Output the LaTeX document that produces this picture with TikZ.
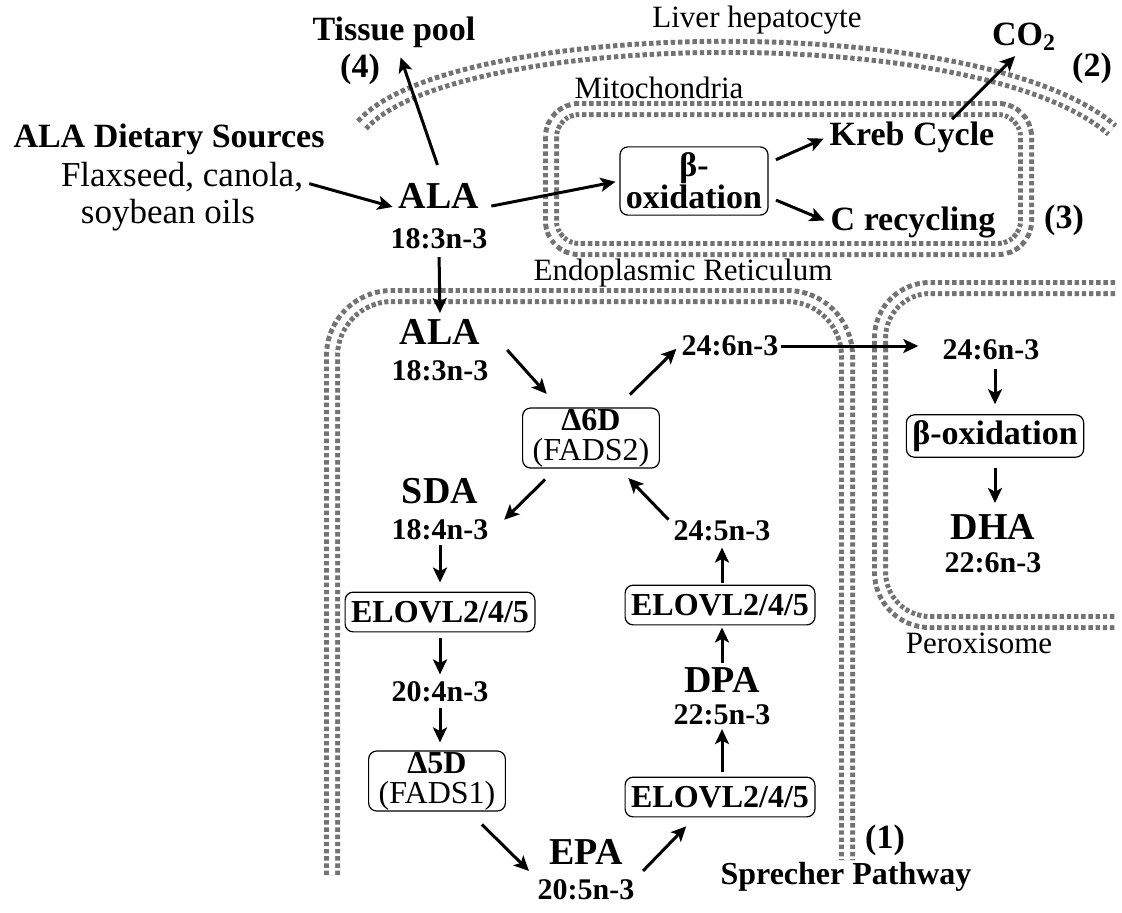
\documentclass[tikz,border=0pt]{standalone}
\usepackage{fontspec}
\setmainfont{Liberation Serif}
\usepackage{tikz}
\usetikzlibrary{positioning, arrows.meta}

\begin{document}
\begin{tikzpicture}[x=0.5pt, y=-0.5pt,
                txt/.style={font=\fontsize{17.5}{19}\selectfont, inner sep=1pt},
                lbl/.style={font=\fontsize{17}{19}\selectfont\bfseries, inner sep=1pt},
                big/.style={font=\fontsize{19}{21}\selectfont\bfseries, inner sep=1pt},
                fa/.style={font=\fontsize{15}{16}\selectfont\bfseries, inner sep=1pt},
                memlabel/.style={font=\fontsize{15.5}{17}\selectfont, inner sep=1pt},
                enzyme/.style={draw, rounded corners=4pt, line width=0.6pt, align=center,
                  inner xsep=3pt, inner ysep=4.5pt, font=\fontsize{16}{16}\selectfont\bfseries},
                desat/.style={enzyme, inner xsep=5pt, inner ysep=0.5pt, font=\fontsize{16}{15}\selectfont\bfseries},
                flow/.style={-{Stealth[length=7.5pt, width=7pt, inset=1.8pt]}, line width=1.5pt,
                  shorten <=2pt, shorten >=2pt},
                membrane/.style={draw=black!55, line width=8pt, dash pattern=on 2.2pt off 1.4pt,
                  postaction={draw=white, solid, line width=3pt}}
                ]
  \useasboundingbox (0,0) rectangle (1122,912);

  % membranes
  \draw [membrane] (362,125) .. controls (450,25) and (980,15) .. (1112,130);
  \draw [membrane, rounded corners=14pt] (551,109) rectangle (1026,249);
  \draw [membrane, rounded corners=30pt] (332,875) -- (332,296) -- (847,296) -- (847,860);
  \draw [membrane, rounded corners=25pt] (1115,288) -- (880,288) -- (880,622) -- (1115,622);

  \node [memlabel] (liver) at (757,20) {Liver hepatocyte};
  \node [memlabel] (mitolbl) at (659,88) {Mitochondria};
  \node [memlabel] (erlbl) at (683,273) {Endoplasmic Reticulum};
  \node [memlabel] (perlbl) at (979,643) {Peroxisome};

  % diet and tissue
  \node [lbl] (pool) at (394,32) {Tissue pool};
  \node [lbl] (n4) at (360,69) {(4)};
  \node [lbl, anchor=base] (srcttl) at (169,147) {ALA Dietary Sources};
  \node [txt, anchor=base] (flax) at (182,186) {Flaxseed, canola,};
  \node [txt, anchor=base] (soy) at (168,223) {soybean oils};
  \node [big] (ala) at (439,196) {ALA};
  \node [fa, below=7.5pt of ala] (alafa) {18:3n-3};

  % mitochondria
  \node [enzyme, inner ysep=3pt, font=\fontsize{17}{16}\selectfont\bfseries] (mbeta) at (694,181) {β-\\oxidation};
  \node [lbl] (kreb) at (912,137) {Kreb Cycle};
  \node [lbl] (crec) at (913,222) {C recycling};
  \node [lbl] (n3) at (1064,220) {(3)};
  \node [lbl] (co2) at (1024,37) {CO\textsubscript{2}};
  \node [lbl] (n2) at (1092,68) {(2)};

  % endoplasmic reticulum
  \node [big] (ala2) at (440,332) {ALA};
  \node [fa, below=5.5pt of ala2] (ala2fa) {18:3n-3};
  \node [desat] (d6) at (591,438) {Δ6D\\{\mdseries (FADS2)}};
  \node [fa] (c246) at (730,346) {24:6n-3};
  \node [big] (sda) at (440,491) {SDA};
  \node [fa, below=5.5pt of sda] (sdafa) {18:4n-3};
  \node [fa] (c245) at (722,531) {24:5n-3};
  \node [enzyme] (elo1) at (440,612) {ELOVL2/4/5};
  \node [enzyme] (elo2) at (720,605) {ELOVL2/4/5};
  \node [fa] (c204) at (440,692) {20:4n-3};
  \node [big] (dpa) at (722,680) {DPA};
  \node [fa, below=3.5pt of dpa] (dpafa) {22:5n-3};
  \node [desat] (d5) at (437,781) {Δ5D\\{\mdseries (FADS1)}};
  \node [enzyme] (elo3) at (720,797) {ELOVL2/4/5};
  \node [big] (epa) at (586,852) {EPA};
  \node [fa, below=5pt of epa] (epafa) {20:5n-3};
  \node [lbl] (n1) at (885,840) {(1)};
  \node [lbl, font=\fontsize{16}{18}\selectfont\bfseries] (sprecher) at (846,877) {Sprecher Pathway};

  % peroxisome
  \node [fa] (p246) at (991,350) {24:6n-3};
  \node [enzyme, inner ysep=2.8pt, font=\fontsize{17}{17}\selectfont\bfseries] (pbeta) at (995,436) {β-oxidation};
  \node [big] (dha) at (993,527) {DHA};
  \node [fa, below=4pt of dha] (dhafa) {22:6n-3};

  \draw [flow, shorten <=8.5pt, shorten >=4pt] ([xshift=2pt]ala.north) -- ([xshift=2pt]pool.south);
  \draw [flow] ([yshift=-3pt]flax.east) -- ([yshift=-6pt]ala.west);
  \draw [flow, shorten <=5pt] ([yshift=-6pt]ala.east) -- (mbeta.west);
  \draw [flow, shorten <=4pt] ([yshift=9pt]mbeta.east) -- (kreb.west);
  \draw [flow, shorten <=4pt] ([yshift=-8pt]mbeta.east) -- (crec.west);
  \draw [flow, shorten <=0pt] ([xshift=20pt]kreb.north) -- ([xshift=-3pt]co2.south);
  \draw [flow, shorten <=3pt] (alafa.south) -- (ala2.north);
  \draw [flow, shorten >=1pt] ([xshift=11pt]ala2.south east) -- ([xshift=13pt, yshift=6pt]d6.north west);
  \draw [flow] ([xshift=18pt, yshift=5pt]d6.north) -- (c246.west);
  \draw [flow, shorten <=0pt, shorten >=11pt] (c246.east) -- (c246.east -| p246.west);
  \draw [flow, shorten >=1pt] ([xshift=-21.5pt, yshift=-4pt]d6.south) -- ([xshift=6pt, yshift=-2pt]sdafa.north east);
  \draw [flow, shorten >=1pt] ([yshift=-2pt]c245.north west) -- ([xshift=18pt, yshift=-4pt]d6.south);
  \draw [flow, shorten <=1.5pt, shorten >=4.5pt] (sdafa.south) -- (sdafa.south |- elo1.north);
  \draw [flow, shorten <=3pt, shorten >=2.5pt] (c204 |- elo1.south) -- (c204.north);
  \draw [flow, shorten <=1.5pt, shorten >=4pt] (c204.south) -- (c204.south |- d5.north);
  \draw [flow, shorten >=0pt] ([xshift=21pt, yshift=-5pt]d5.south) -- ([xshift=-9pt, yshift=-2pt]epa.south west);
  \draw [flow, shorten <=0pt] ([xshift=9pt, yshift=-2pt]epa.south east) -- ([xshift=-15.5pt, yshift=-3pt]elo3.south);
  \draw [flow, shorten <=2.5pt, shorten >=1pt] (dpafa |- elo3.north) -- (dpafa.south);
  \draw [flow, shorten <=1pt, shorten >=1pt] (dpa.north) -- (dpa.north |- elo2.south);
  \draw [flow, shorten <=1pt] (c245 |- elo2.north) -- (c245.south);
  \draw [flow, shorten <=3pt, shorten >=5pt] (pbeta |- p246.south) -- (pbeta.north);
  \draw [flow, shorten <=5pt, shorten >=4.5pt] (pbeta.south) -- (pbeta.south |- dha.north);
\end{tikzpicture}
\end{document}
